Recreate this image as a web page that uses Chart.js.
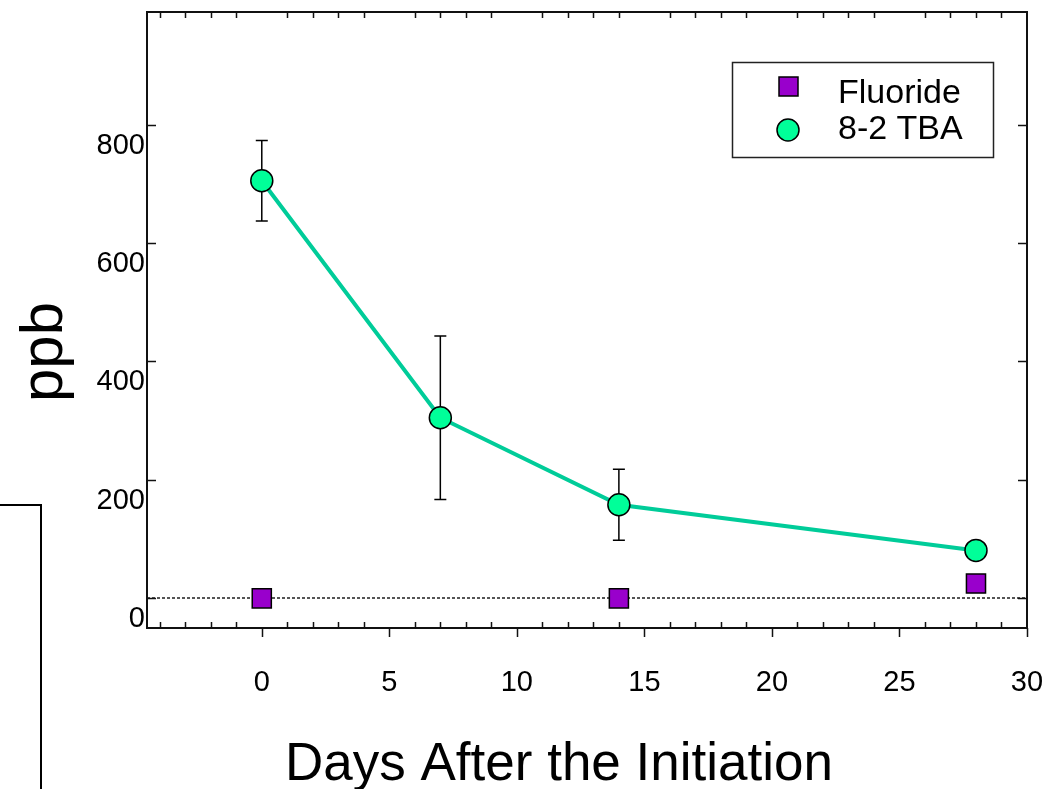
<!DOCTYPE html>
<html>
<head>
<meta charset="utf-8">
<script src="https://cdn.jsdelivr.net/npm/chart.js@4.4.0/dist/chart.umd.min.js"></script>
<style>
  html, body { margin: 0; padding: 0; background: #fff; }
  #wrap { width: 1051px; height: 789px; }
</style>
</head>
<body>
<div id="wrap"><canvas id="ppbChart" width="1051" height="789"></canvas></div>
<script>
// Data
const days = [0, 7, 14, 28];
const tbaValues = [705, 305, 158, 81];
const tbaErrors = [68, 138, 60, 0];
const fluorideDays = [0, 14, 28];
const fluorideValues = [0, 0, 25];
const detectionLimit = 0;

const xTicks = [0, 5, 10, 15, 20, 25, 30];
const yTicks = [0, 200, 400, 600, 800];

const FONT = "'Liberation Sans', Arial, sans-serif";

// error bars, dotted line, frame and ticks
const decorations = {
    id: 'decorations',
    beforeDatasetsDraw(chart) {
        const ctx = chart.ctx;
        const xs = chart.scales.x;
        const ys = chart.scales.y;
        const area = chart.chartArea;

        // dotted line
        ctx.save();
        ctx.strokeStyle = '#555';
        ctx.lineWidth = 2;
        ctx.setLineDash([3, 2]);
        const yd = Math.round(ys.getPixelForValue(detectionLimit));
        ctx.beginPath();
        ctx.moveTo(area.left, yd);
        ctx.lineTo(area.right, yd);
        ctx.stroke();
        ctx.restore();

        // error bars
        ctx.save();
        ctx.strokeStyle = '#000';
        ctx.lineWidth = 1.5;
        days.forEach((d, i) => {
            if (!tbaErrors[i]) return;
            const px = xs.getPixelForValue(d);
            const top = ys.getPixelForValue(tbaValues[i] + tbaErrors[i]);
            const bot = ys.getPixelForValue(tbaValues[i] - tbaErrors[i]);
            ctx.beginPath();
            ctx.moveTo(px, top);
            ctx.lineTo(px, bot);
            ctx.moveTo(px - 6, top);
            ctx.lineTo(px + 6, top);
            ctx.moveTo(px - 6, bot);
            ctx.lineTo(px + 6, bot);
            ctx.stroke();
        });
        ctx.restore();
    },
    afterDatasetsDraw(chart) {
        const ctx = chart.ctx;
        const xs = chart.scales.x;
        const ys = chart.scales.y;
        const a = chart.chartArea;

        ctx.save();
        ctx.strokeStyle = '#111';
        ctx.lineWidth = 2;
        ctx.strokeRect(a.left, a.top, a.right - a.left, a.bottom - a.top);

        ctx.lineWidth = 1.5;
        ctx.beginPath();
        // x ticks: majors out at bottom, minors in (bottom + top)
        for (let v = Math.ceil(xs.min); v <= xs.max; v++) {
            const px = Math.round(xs.getPixelForValue(v)) + 0.5;
            if (xTicks.includes(v)) {
                ctx.moveTo(px, a.bottom);
                ctx.lineTo(px, a.bottom + 9);
            } else {
                ctx.moveTo(px, a.bottom);
                ctx.lineTo(px, a.bottom - 6);
                ctx.moveTo(px, a.top);
                ctx.lineTo(px, a.top + 6);
            }
        }
        // y ticks, inward on both sides
        yTicks.forEach(v => {
            const py = Math.round(ys.getPixelForValue(v)) + 0.5;
            ctx.moveTo(a.left, py);
            ctx.lineTo(a.left + 9, py);
            ctx.moveTo(a.right, py);
            ctx.lineTo(a.right - 9, py);
        });
        ctx.stroke();

        // stray bracket at the left edge
        ctx.lineWidth = 2;
        ctx.strokeStyle = '#000';
        ctx.beginPath();
        ctx.moveTo(0, 505);
        ctx.lineTo(41, 505);
        ctx.lineTo(41, 789);
        ctx.stroke();

        // axis titles
        ctx.fillStyle = '#000';
        ctx.font = '53px ' + FONT;
        ctx.textAlign = 'center';
        ctx.textBaseline = 'alphabetic';
        ctx.fillText('Days After the Initiation', 559, 780);

        ctx.translate(62, 352);
        ctx.rotate(-Math.PI / 2);
        ctx.font = '60px ' + FONT;
        ctx.fillText('ppb', 0, 0);
        ctx.restore();

        // legend
        const ds = chart.data.datasets;
        ctx.save();
        ctx.fillStyle = '#fff';
        ctx.fillRect(732, 62, 261, 95);
        ctx.strokeStyle = '#222';
        ctx.lineWidth = 1.5;
        ctx.strokeRect(732.5, 62.5, 261, 95);

        ctx.lineWidth = 1.5;
        ctx.strokeStyle = '#000';
        ctx.fillStyle = ds[0].backgroundColor;
        ctx.fillRect(779, 77, 19, 19);
        ctx.strokeRect(779, 77, 19, 19);

        ctx.fillStyle = ds[1].pointBackgroundColor;
        ctx.beginPath();
        ctx.arc(788, 130, 11, 0, Math.PI * 2);
        ctx.fill();
        ctx.stroke();

        ctx.fillStyle = '#000';
        ctx.font = '34px ' + FONT;
        ctx.textAlign = 'left';
        ctx.textBaseline = 'middle';
        ctx.fillText(ds[0].label, 838, 94);
        ctx.fillText(ds[1].label, 838, 130);
        ctx.restore();
    }
};

document.addEventListener('DOMContentLoaded', function () {
    const ctx = document.getElementById('ppbChart').getContext('2d');

    new Chart(ctx, {
        type: 'scatter',
        data: {
            datasets: [{
                label: 'Fluoride',
                data: fluorideDays.map((d, i) => ({ x: d, y: fluorideValues[i] })),
                showLine: false,
                pointStyle: 'rect',
                pointRadius: 13.5,
                backgroundColor: '#9900CC',
                borderColor: '#000',
                borderWidth: 1.5,
            }, {
                label: '8-2 TBA',
                data: days.map((d, i) => ({ x: d, y: tbaValues[i] })),
                showLine: true,
                borderColor: '#00CC99',
                borderWidth: 4,
                pointStyle: 'circle',
                pointRadius: 11,
                pointBackgroundColor: '#00FF99',
                pointBorderColor: '#000',
                pointBorderWidth: 1.5,
                tension: 0,
            }]
        },
        options: {
            responsive: false,
            animation: false,
            events: [],
            layout: {
                autoPadding: false,
                padding: { top: 12, right: 24, left: 0, bottom: 0 }
            },
            scales: {
                x: {
                    type: 'linear',
                    min: -4.5,
                    max: 30,
                    afterBuildTicks: (scale) => { scale.ticks = xTicks.map(v => ({ value: v })); },
                    afterFit: (scale) => {
                        scale.height = 161;
                        scale.paddingLeft = 0;
                        scale.paddingRight = 0;
                    },
                    grid: { display: false, drawTicks: false },
                    border: { display: false },
                    ticks: {
                        padding: 38,
                        color: '#000',
                        font: { family: FONT, size: 29 },
                        maxRotation: 0,
                        autoSkip: false,
                    },
                },
                y: {
                    type: 'linear',
                    min: -50,
                    max: 990,
                    afterBuildTicks: (scale) => { scale.ticks = yTicks.map(v => ({ value: v })); },
                    afterFit: (scale) => {
                        scale.width = 147;
                        scale.paddingTop = 0;
                        scale.paddingBottom = 0;
                    },
                    grid: { display: false, drawTicks: false },
                    border: { display: false },
                    ticks: {
                        padding: 2,
                        labelOffset: 21,
                        color: '#000',
                        font: { family: FONT, size: 29 },
                    },
                },
            },
            plugins: {
                legend: { display: false },
                tooltip: { enabled: false },
                title: { display: false },
            },
        },
        plugins: [decorations]
    });
});
</script>
</body>
</html>
